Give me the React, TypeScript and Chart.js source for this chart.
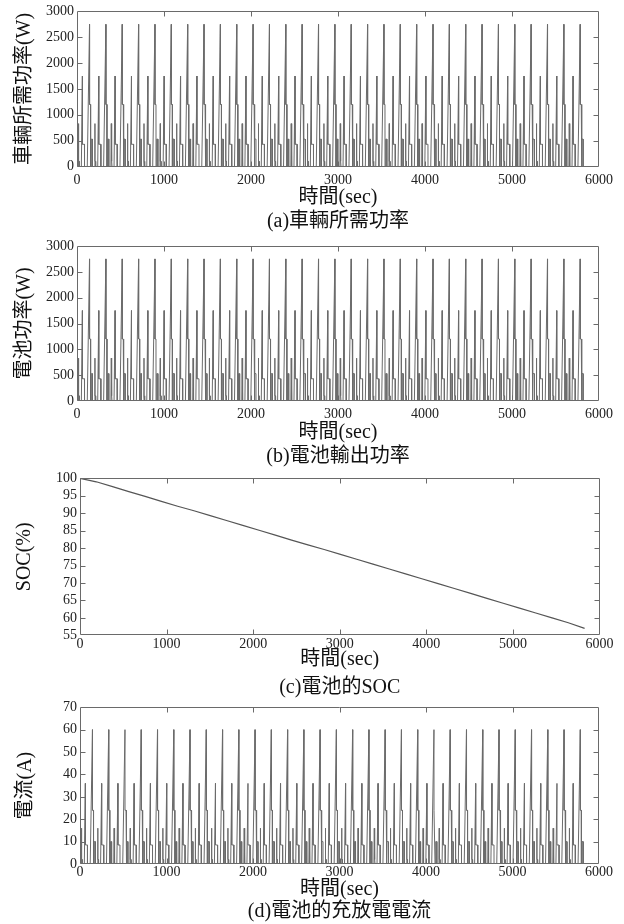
import React, { useEffect, useRef } from 'react';
import { Chart, registerables } from 'chart.js';

Chart.register(...registerables);

const FONT = "'Liberation Serif', 'Noto Sans CJK TC', serif";

// ---------------- data ----------------
// one repeated urban drive cycle (seconds within the cycle)
const CYCLE_SECONDS = 188;
const CYCLE_COUNT = 31;
const cycleTime = [0, 14, 18, 18.5, 26, 26.5, 50, 62, 62.5, 86, 86.5, 118, 144, 144.5, 156, 156.5, 164, 164.5, 177, 177.5, 188];
// (a) vehicle demand power, W
const vehiclePowerCycle = [0, 0, 830, 100, 100, 0, 0, 1750, 430, 430, 0, 0, 2750, 1200, 1200, 0, 0, 530, 530, 0, 0];
// (b) battery output power, W
const batteryPowerCycle = [0, 0, 830, 100, 100, 0, 0, 1750, 430, 430, 0, 0, 2750, 1200, 1200, 0, 0, 530, 530, 0, 0];
// (d) battery current, A
const batteryCurrentCycle = [0, 0, 16, 2, 2, 0, 0, 36, 8.5, 8.5, 0, 0, 60, 24, 24, 0, 0, 10, 10, 0, 0];

// (c) state of charge at the end of each cycle
const socTime = [0, 188, 376, 564, 752, 940, 1128, 1316, 1504, 1692, 1880, 2068, 2256, 2444, 2632, 2820, 3008, 3196, 3384, 3572, 3760, 3948, 4136, 4324, 4512, 4700, 4888, 5076, 5264, 5452, 5640, 5828];
const socValue = [100, 99.0, 97.6, 96.2, 94.8, 93.4, 92.0, 90.7, 89.3, 87.9, 86.5, 85.1, 83.7, 82.3, 80.9, 79.6, 78.2, 76.8, 75.4, 74.0, 72.6, 71.2, 69.8, 68.4, 67.0, 65.6, 64.2, 62.8, 61.4, 60.0, 58.6, 57.0];

// tick labels
const timeTicks = [0, 1000, 2000, 3000, 4000, 5000, 6000];
const powerTicks = [0, 500, 1000, 1500, 2000, 2500, 3000];
const socTicks = [55, 60, 65, 70, 75, 80, 85, 90, 95, 100];
const currentTicks = [0, 10, 20, 30, 40, 50, 60, 70];

function repeatCycle(times: number[], values: number[]) {
  const pts: { x: number; y: number }[] = [];
  for (let k = 0; k < CYCLE_COUNT; k++) {
    for (let i = 0; i < times.length; i++) {
      if (k > 0 && i === 0) continue;
      pts.push({ x: k * CYCLE_SECONDS + times[i], y: values[i] });
    }
  }
  return pts;
}

const socPoints = socTime.map((t, i) => ({ x: t, y: socValue[i] }));

// ---------------- frame plugin (MATLAB-like box with inward ticks) ----------------
const matlabFrame = {
  id: 'matlabFrame',
  afterDatasetsDraw(chart: any) {
    const { ctx, chartArea: a, scales } = chart;
    const xs = scales.x;
    const ys = scales.y;
    const L = Math.round(a.left) + 0.5;
    const R = Math.round(a.right) - 0.5;
    const T = Math.round(a.top) + 0.5;
    const B = Math.round(a.bottom) - 0.5;
    const len = 5;
    ctx.save();
    ctx.strokeStyle = '#6a6a6a';
    ctx.lineWidth = 1;
    ctx.beginPath();
    ctx.rect(L, T, R - L, B - T);
    xs.ticks.forEach((t: any) => {
      if (t.value <= xs.min || t.value >= xs.max) return;
      const px = Math.round(xs.getPixelForValue(t.value)) + 0.5;
      ctx.moveTo(px, T);
      ctx.lineTo(px, T + len);
      ctx.moveTo(px, B);
      ctx.lineTo(px, B - len);
    });
    ys.ticks.forEach((t: any) => {
      if (t.value <= ys.min || t.value >= ys.max) return;
      const py = Math.round(ys.getPixelForValue(t.value)) + 0.5;
      ctx.moveTo(L, py);
      ctx.lineTo(L + len, py);
      ctx.moveTo(R, py);
      ctx.lineTo(R - len, py);
    });
    ctx.stroke();
    ctx.restore();
  },
};

type PanelCfg = {
  canvasTop: number;
  canvasHeight: number;
  area: { left: number; right: number; top: number; bottom: number };
  xLabelPad: number;
  xTitleCenter: number;
  captionCenter: number;
  yTitlePad: number;
  yTitle: string;
  caption: string;
  yMin: number;
  yMax: number;
  yTicks: number[];
  points: { x: number; y: number }[];
  color: string;
  width: number;
};

const panels: PanelCfg[] = [
  {
    canvasTop: 0, canvasHeight: 236,
    area: { left: 77, right: 599, top: 11, bottom: 166.5 },
    xLabelPad: 5, xTitleCenter: 198, captionCenter: 221.7, yTitlePad: 15,
    yTitle: '車輛所需功率(W)', caption: '(a)車輛所需功率',
    yMin: 0, yMax: 3000, yTicks: powerTicks,
    points: repeatCycle(cycleTime, vehiclePowerCycle), color: '#6b6b6b', width: 1,
  },
  {
    canvasTop: 232, canvasHeight: 240,
    area: { left: 77, right: 599, top: 246, bottom: 401 },
    xLabelPad: 5, xTitleCenter: 433, captionCenter: 457, yTitlePad: 15,
    yTitle: '電池功率(W)', caption: '(b)電池輸出功率',
    yMin: 0, yMax: 3000, yTicks: powerTicks,
    points: repeatCycle(cycleTime, batteryPowerCycle), color: '#6b6b6b', width: 1,
  },
  {
    canvasTop: 464, canvasHeight: 238,
    area: { left: 80, right: 599.5, top: 478.3, bottom: 635.3 },
    xLabelPad: 0.5, xTitleCenter: 660, captionCenter: 688, yTitlePad: 15,
    yTitle: 'SOC(%)', caption: '(c)電池的SOC',
    yMin: 55, yMax: 100, yTicks: socTicks,
    points: socPoints, color: '#555555', width: 1.2,
  },
  {
    canvasTop: 693, canvasHeight: 231,
    area: { left: 80, right: 599, top: 707.3, bottom: 864 },
    xLabelPad: 0, xTitleCenter: 890, captionCenter: 911.7, yTitlePad: 16,
    yTitle: '電流(A)', caption: '(d)電池的充放電電流',
    yMin: 0, yMax: 70, yTicks: currentTicks,
    points: repeatCycle(cycleTime, batteryCurrentCycle), color: '#6b6b6b', width: 1,
  },
];

const plainLabel = (v: any) => String(v);

function Panel({ cfg }: { cfg: PanelCfg }) {
  const ref = useRef<HTMLCanvasElement>(null);
  useEffect(() => {
    const canvas = ref.current;
    if (!canvas) return;
    const a = cfg.area;
    const scaleBottom = cfg.captionCenter - 10;
    const chart = new Chart(canvas, {
      type: 'line',
      data: {
        datasets: [
          {
            data: cfg.points,
            borderColor: cfg.color,
            borderWidth: cfg.width,
            pointRadius: 0,
            tension: 0,
            fill: false,
          },
        ],
      },
      options: {
        animation: false,
        responsive: false,
        devicePixelRatio: 1,
        events: [],
        parsing: false,
        layout: {
          padding: {
            left: 0,
            top: a.top - cfg.canvasTop,
            right: 624 - a.right,
            bottom: cfg.canvasTop + cfg.canvasHeight - (cfg.captionCenter + 10),
          },
        },
        plugins: {
          legend: { display: false },
          tooltip: { enabled: false },
          title: {
            display: true,
            text: cfg.caption,
            position: 'bottom',
            fullSize: false,
            padding: 0,
            color: '#111',
            font: { family: FONT, size: 20, weight: 'normal', lineHeight: 1 },
          },
        },
        scales: {
          x: {
            type: 'linear',
            min: 0,
            max: 6000,
            afterBuildTicks: (s: any) => {
              s.ticks = timeTicks.map((v) => ({ value: v }));
            },
            afterFit: (s: any) => {
              s.height = scaleBottom - a.bottom;
            },
            grid: { display: false, drawTicks: false },
            border: { display: false },
            ticks: {
              autoSkip: false,
              maxRotation: 0,
              padding: cfg.xLabelPad,
              color: '#222',
              font: { family: FONT, size: 14, lineHeight: 1.2 },
              callback: plainLabel,
            },
            title: {
              display: true,
              text: '時間(sec)',
              color: '#111',
              padding: { top: 0, bottom: scaleBottom - cfg.xTitleCenter - 10 },
              font: { family: FONT, size: 20, lineHeight: 1 },
            },
          },
          y: {
            type: 'linear',
            min: cfg.yMin,
            max: cfg.yMax,
            afterBuildTicks: (s: any) => {
              s.ticks = cfg.yTicks.map((v) => ({ value: v }));
            },
            afterFit: (s: any) => {
              s.width = a.left;
            },
            grid: { display: false, drawTicks: false },
            border: { display: false },
            ticks: {
              autoSkip: false,
              padding: 3,
              color: '#222',
              font: { family: FONT, size: 14, lineHeight: 1.2 },
              callback: plainLabel,
            },
            title: {
              display: true,
              text: cfg.yTitle,
              color: '#111',
              padding: { top: cfg.yTitlePad, bottom: 0 },
              font: { family: FONT, size: 20, lineHeight: 1 },
            },
          },
        },
      },
      plugins: [matlabFrame],
    } as any);
    return () => chart.destroy();
  }, [cfg]);
  return (
    <canvas
      ref={ref}
      width={624}
      height={cfg.canvasHeight}
      style={{ position: 'absolute', left: 0, top: cfg.canvasTop, width: 624, height: cfg.canvasHeight }}
    />
  );
}

export default function App() {
  return (
    <div style={{ position: 'absolute', left: 0, top: 0, width: 624, height: 924, background: '#fff', overflow: 'hidden' }}>
      {panels.map((p, i) => (
        <Panel key={i} cfg={p} />
      ))}
    </div>
  );
}
